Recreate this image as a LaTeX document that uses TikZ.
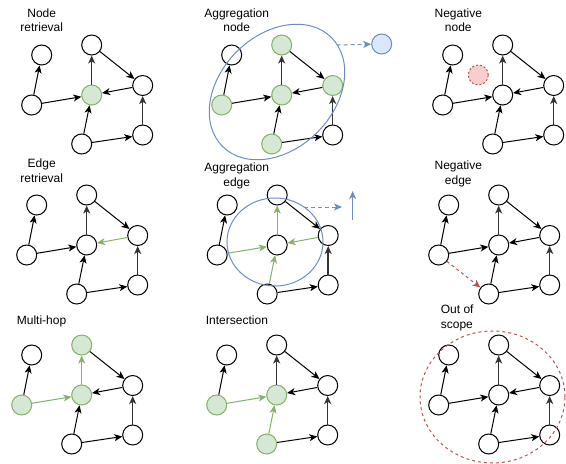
\documentclass[tikz,border=0pt]{standalone}
\usepackage{fontspec}
\setmainfont{Liberation Sans}
\usetikzlibrary{arrows.meta}

\definecolor{gfill}{HTML}{D5E8D4}
\definecolor{gline}{HTML}{82B366}
\definecolor{bfill}{HTML}{DAE8FC}
\definecolor{bline}{HTML}{6C8EBF}
\definecolor{rfill}{HTML}{F8CECC}
\definecolor{rline}{HTML}{B85450}
\definecolor{vline}{HTML}{333333}

\tikzset{
  head/.style={-{Stealth[length=8pt,width=7pt,inset=2.2pt]}},
  vtx/.style={circle, draw=black, fill=white, line width=1pt, minimum size=20pt, inner sep=0pt},
  gvtx/.style={fill=gfill, draw=gline},
  arc/.style={draw=black, line width=1pt, head},
  varc/.style={draw=vline, line width=1.5pt, head},
  garc/.style={draw=gline, line width=1pt, head},
  rarc/.style={draw=rline, line width=1pt, dash pattern=on 3pt off 3pt, head},
  barc/.style={draw=bline, line width=1pt, head},
  title/.style={font=\fontsize{12}{14.5}\selectfont, inner sep=0pt},
  % per-panel hooks, empty by default
  nA/.style={}, nB/.style={}, nC/.style={}, nD/.style={}, nE/.style={}, nF/.style={}, nG/.style={},
  eBA/.style={}, eBC/.style={}, eCD/.style={}, eDE/.style={}, eEC/.style={}, eGC/.style={}, eGF/.style={}, eFE/.style={},
}

% the seven-vertex directed graph shared by all panels
\newcommand{\graphat}[1]{%
  \node[vtx, nA] (#1A) at (41.7,55) {};
  \node[vtx, nB] (#1B) at (31.7,105) {};
  \node[vtx, nC] (#1C) at (91.7,95) {};
  \node[vtx, nD] (#1D) at (91.7,45) {};
  \node[vtx, nE] (#1E) at (142.7,85.5) {};
  \node[vtx, nF] (#1F) at (142.7,135) {};
  \node[vtx, nG] (#1G) at (81.7,144) {};
  \draw[arc, eBA] (#1B) -- (#1A);
  \draw[arc, eBC] (#1B) -- (#1C);
  \draw[varc, eCD] (#1C) -- (#1D);
  \draw[arc, eDE] (#1D) -- (#1E);
  \draw[arc, eEC] (#1E) -- (#1C);
  \draw[arc, eGC] (#1G) -- (#1C);
  \draw[arc, eGF] (#1G) -- (#1F);
  \draw[varc, eFE] (#1F) -- (#1E);
}

\begin{document}
\begin{tikzpicture}[x=1pt, y=-1pt]
\useasboundingbox (0,0) rectangle (566,464);

% ---- row 1 ----
\node[title, align=center] (t1) at (41.7,20.3) {Node\\retrieval};
\begin{scope}[nC/.style={gvtx}]
  \graphat{p1}
\end{scope}

\node[title, align=center] (t2) at (236.7,20.3) {Aggregation\\node};
\begin{scope}[shift={(190,0)}, nB/.style={gvtx}, nC/.style={gvtx}, nD/.style={gvtx}, nE/.style={gvtx}, nG/.style={gvtx}]
  \graphat{p2}
\end{scope}
\draw[bline, line width=1pt] (277,92) ellipse [x radius=77pt, y radius=57pt, rotate=45];
\coordinate (p2out) at (336.7,45);
\node[vtx, fill=bfill, draw=bline] (p2agg) at (381.7,44) {};
\draw[barc, dash pattern=on 4pt off 3pt] (p2out) -- (p2agg);

\node[title, align=center] (t3) at (458.3,20.3) {Negative\\node};
\begin{scope}[shift={(411,0)}]
  \graphat{p3}
\end{scope}
\node[vtx, fill=rfill, draw=rline, dash pattern=on 2pt off 2pt] (p3neg) at (478.3,75) {};

% ---- row 2 ----
\node[title, align=center] (t4) at (41.7,170.7) {Edge\\retrieval};
\begin{scope}[shift={(-5,150)}, eEC/.style={garc}]
  \graphat{p4}
\end{scope}

\node[title, align=center] (t5) at (236.7,175.8) {Aggregation\\edge};
\begin{scope}[shift={(185.5,150)}, eBC/.style={garc}, eCD/.style={garc}, eEC/.style={garc}, eGC/.style={garc}]
  \graphat{p5}
\end{scope}
\draw[bline, line width=1pt] (275,242) ellipse [x radius=48pt, y radius=44pt];
\coordinate (p5out) at (304,207);
\coordinate (p5end) at (342,207);
\draw[barc, dash pattern=on 4pt off 3pt] (p5out) -- (p5end);
\coordinate (p5upa) at (352.7,220);
\coordinate (p5upb) at (352.7,191);
\draw[barc] (p5upa) -- (p5upb);

\node[title, align=center] (t6) at (458.3,174) {Negative\\edge};
\begin{scope}[shift={(407,150)}]
  \graphat{p6}
\end{scope}
\draw[rarc] (p6B) -- (p6G);

% ---- row 3 ----
\node[title, anchor=west] (t7) at (16.7,321) {Multi-hop};
\begin{scope}[shift={(-10,300)}, nB/.style={gvtx}, nC/.style={gvtx}, nD/.style={gvtx}, eBC/.style={garc}, eCD/.style={garc}]
  \graphat{p7}
\end{scope}

\node[title, anchor=west] (t8) at (205.7,320) {Intersection};
\begin{scope}[shift={(185,300)}, nB/.style={gvtx}, nC/.style={gvtx}, nG/.style={gvtx}, eBC/.style={garc}, eGC/.style={garc}]
  \graphat{p8}
\end{scope}

\node[title, align=left, anchor=west] (t9) at (440.7,318) {Out of\\scope};
\begin{scope}[shift={(407,300)}]
  \graphat{p9}
\end{scope}
\draw[rline, line width=1pt, dash pattern=on 3pt off 3pt] (492.5,397) ellipse [x radius=72.5pt, y radius=66pt];
\end{tikzpicture}
\end{document}
